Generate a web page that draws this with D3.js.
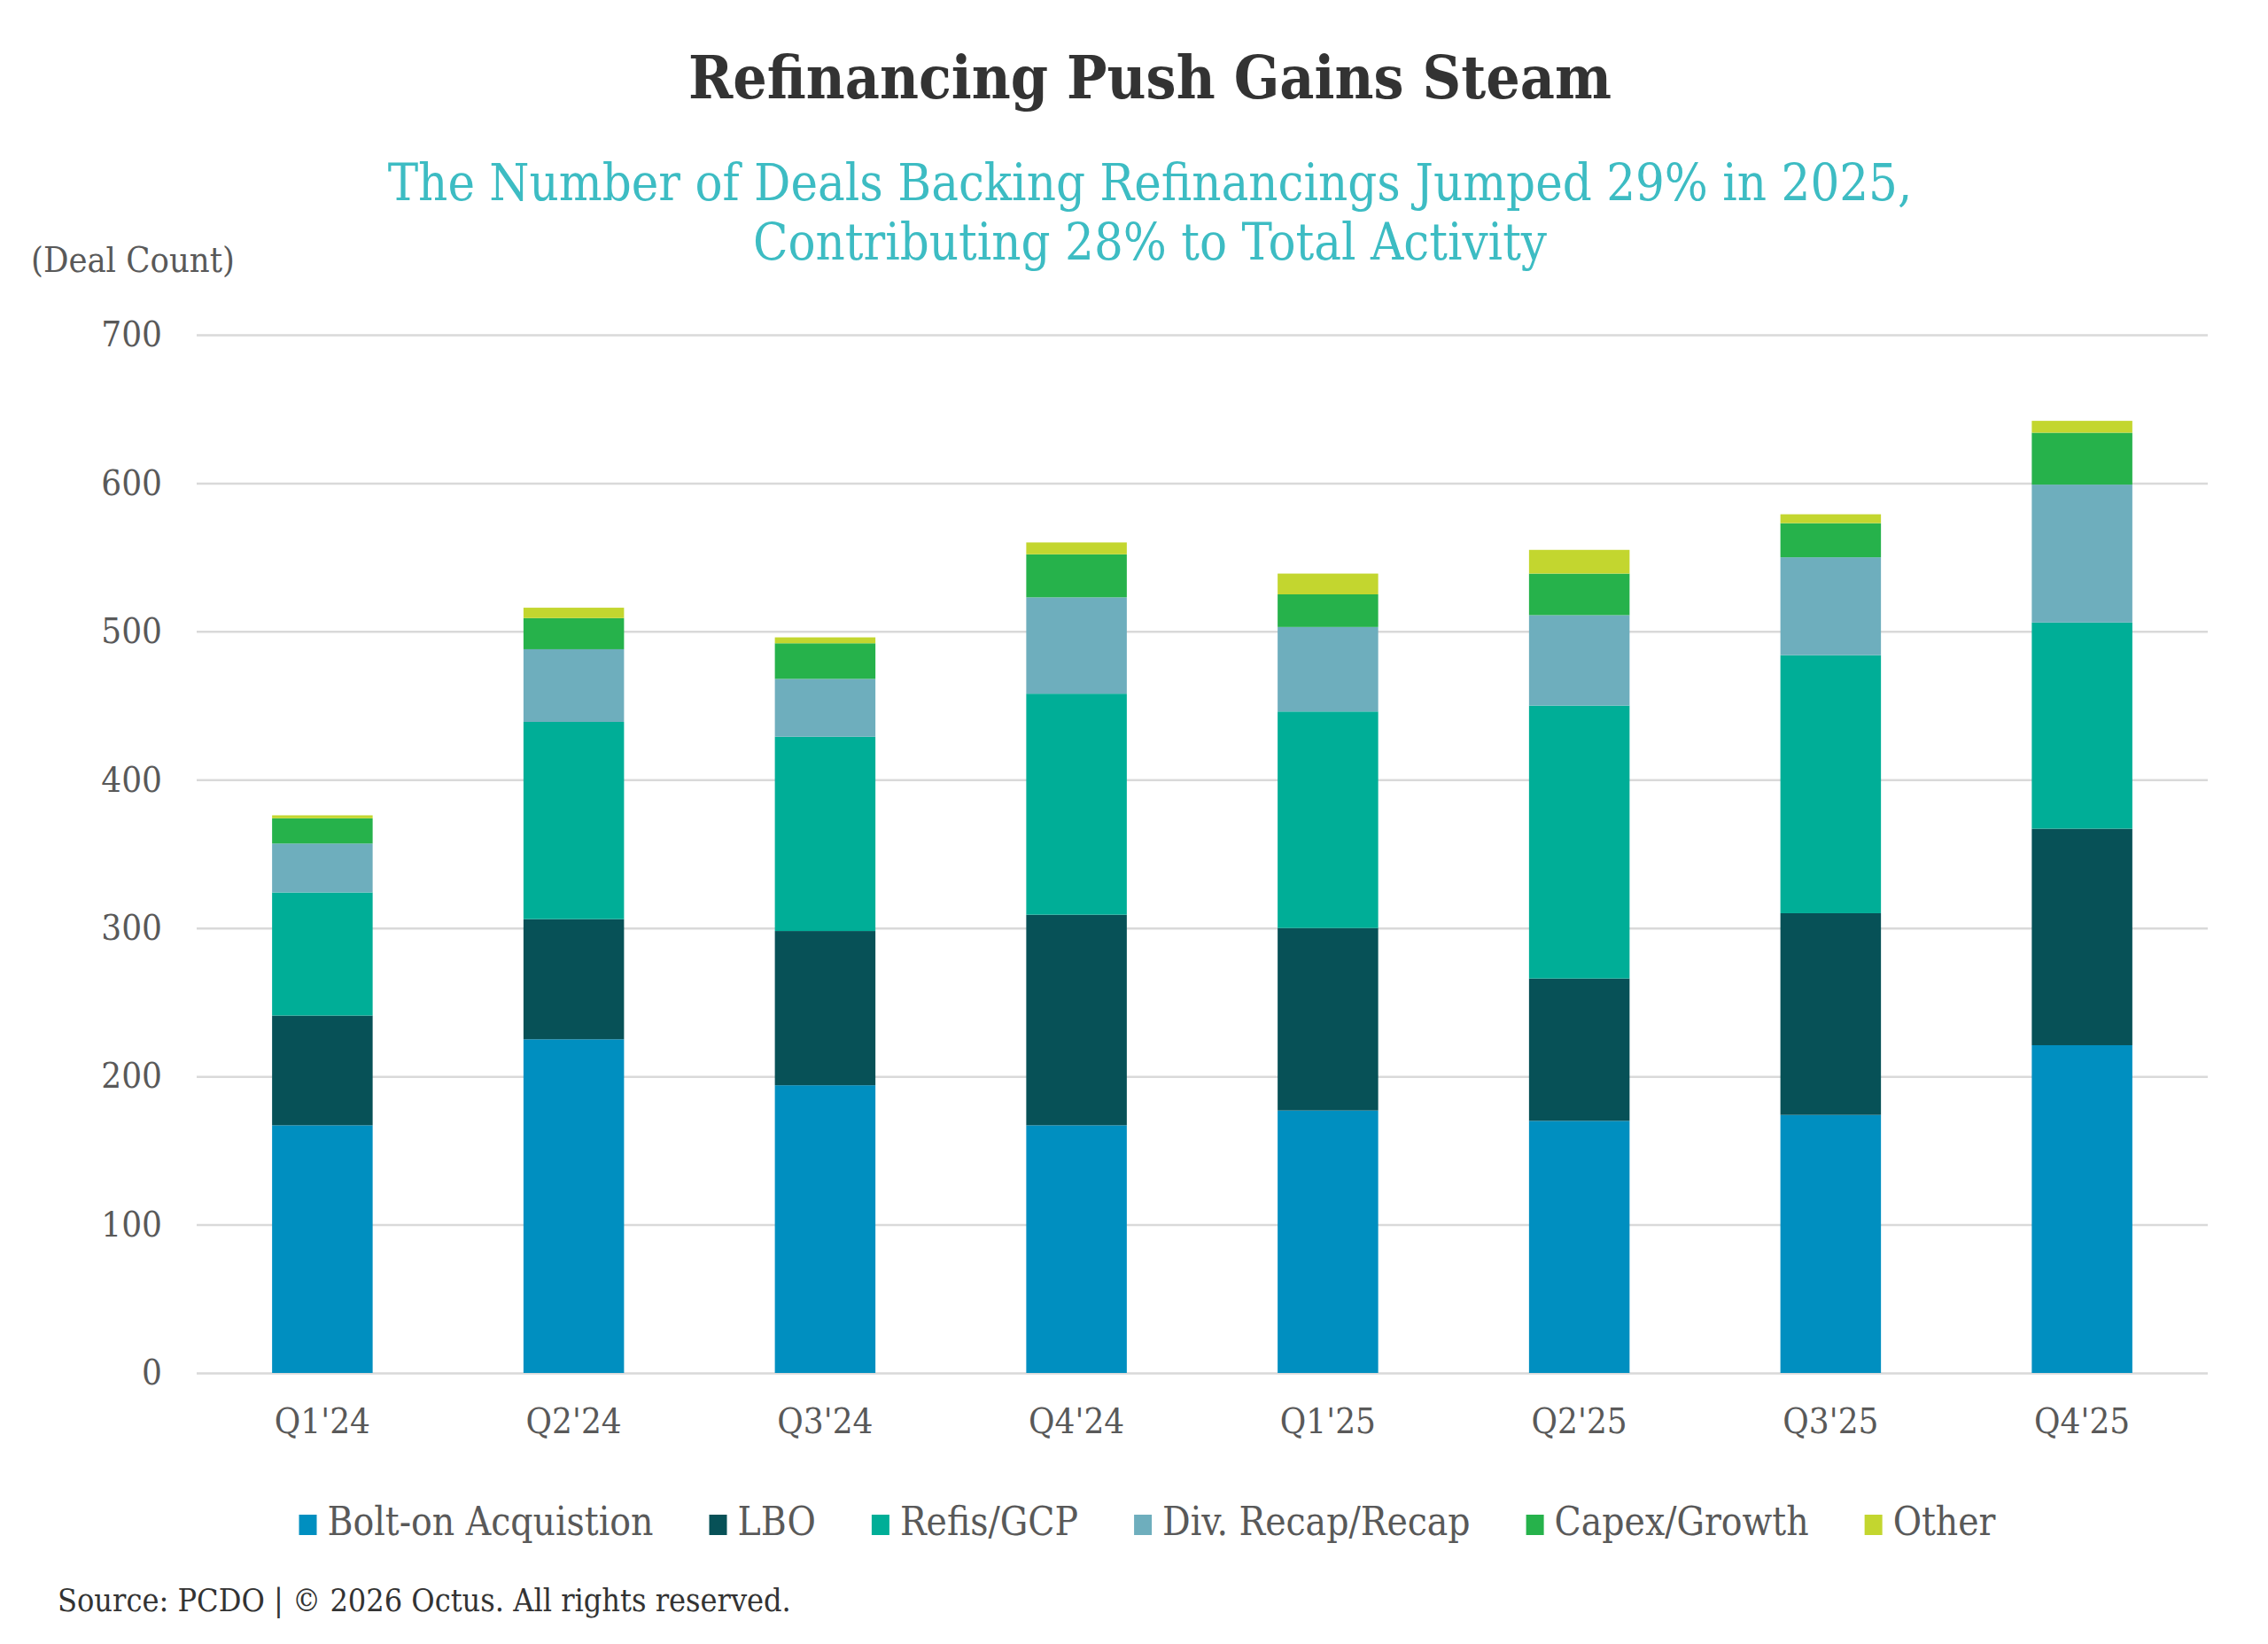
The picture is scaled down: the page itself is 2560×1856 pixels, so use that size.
<!DOCTYPE html>
<html>
<head>
<meta charset="utf-8">
<script src="https://cdn.jsdelivr.net/npm/d3@7"></script>
<style>
  html, body { margin: 0; padding: 0; background: #fff; }
  svg { display: block; }
</style>
</head>
<body>
<svg id="chart" width="2560" height="1856"></svg>
<script>
// quarters on the x axis
const quarters = ["Q1'24", "Q2'24", "Q3'24", "Q4'24", "Q1'25", "Q2'25", "Q3'25", "Q4'25"]

// deal counts per use of proceeds
const boltOn = [167, 225, 194, 167, 177, 170, 174, 221]
const lbo = [74, 81, 104, 142, 123, 96, 136, 146]
const refis = [83, 133, 131, 149, 146, 184, 174, 139]
const divRecap = [33, 49, 39, 65, 57, 61, 66, 93]
const capex = [17, 21, 24, 29, 22, 28, 23, 35]
const other = [2, 7, 4, 8, 14, 16, 6, 8]

const seriesNames = ["Bolt-on Acquistion", "LBO", "Refis/GCP", "Div. Recap/Recap", "Capex/Growth", "Other"]
const seriesValues = [boltOn, lbo, refis, divRecap, capex, other]
const yTicks = [0, 100, 200, 300, 400, 500, 600, 700]

const colours = {
	boltOn: "#008fc0",
	lbo: "#075157",
	refis: "#00ae97",
	divRecap: "#6eaebd",
	capex: "#26b24b",
	other: "#c3d62f",
	title: "#333333",
	subtitle: "#3dbcc3",
	label: "#595959",
	grid: "#d9d9d9"
}
const seriesColours = [colours.boltOn, colours.lbo, colours.refis, colours.divRecap, colours.capex, colours.other]

const font = "'DejaVu Serif Condensed', 'DejaVu Serif', serif"

const svg = d3.select("#chart").style("font-family", font)

svg.append("rect").attr("width", 2560).attr("height", 1856).attr("fill", "#fff")

// scale a text's font size so it spans the width it has in the reference
const fitText = (sel, target) => {
	const w = sel.node().getComputedTextLength()
	sel.attr("font-size", parseFloat(sel.attr("font-size")) * target / w)
	return sel
}

/**
 * Table for the stack: one row per quarter
 */
const table = quarters.map((q, i) => {
	const row = { quarter: q }
	seriesNames.forEach((name, j) => (row[name] = seriesValues[j][i]))
	return row
})
const stacked = d3.stack().keys(seriesNames)(table)

const margin = { left: 222, right: 2492, top: 378, bottom: 1550 }

const x = d3
	.scaleBand()
	.domain(quarters)
	.range([margin.left, margin.right])
	.paddingInner(0.6)
	.paddingOuter(0.3)

const y = d3.scaleLinear().domain([0, 700]).range([margin.bottom, margin.top])

// gridlines + y labels
const yAxis = svg
	.append("g")
	.attr("transform", `translate(${margin.left},0)`)
	.call(
		d3
			.axisLeft(y)
			.tickValues(yTicks)
			.tickSize(-(margin.right - margin.left))
			.tickPadding(39)
	)
yAxis.select(".domain").remove()
yAxis.selectAll(".tick line").attr("stroke", colours.grid).attr("stroke-width", 2.5)
yAxis
	.selectAll(".tick text")
	.attr("fill", colours.label)
	.attr("font-family", font)
	.attr("font-size", 40)

// x labels
const xAxis = svg
	.append("g")
	.attr("transform", `translate(0,${margin.bottom})`)
	.call(d3.axisBottom(x).tickSize(0))
xAxis.select(".domain").remove()
xAxis
	.selectAll(".tick text")
	.attr("dy", null)
	.attr("y", 68)
	.attr("fill", colours.label)
	.attr("font-family", font)
	.attr("font-size", 40)

// stacked bars
svg
	.append("g")
	.selectAll("g")
	.data(stacked)
	.enter()
	.append("g")
	.attr("fill", (d, i) => seriesColours[i])
	.selectAll("rect")
	.data((d) => d)
	.enter()
	.append("rect")
	.attr("x", (d) => x(d.data.quarter))
	.attr("width", x.bandwidth())
	.attr("y", (d) => y(d[1]))
	.attr("height", (d) => y(d[0]) - y(d[1]))

// titles
fitText(
	svg
		.append("text")
		.attr("x", 1298)
		.attr("y", 111)
		.attr("text-anchor", "middle")
		.attr("font-weight", "bold")
		.attr("font-size", 64)
		.attr("fill", colours.title)
		.text("Refinancing Push Gains Steam"),
	1042
)

fitText(
	svg
		.append("text")
		.attr("x", 1298)
		.attr("y", 226)
		.attr("text-anchor", "middle")
		.attr("font-size", 56)
		.attr("fill", colours.subtitle)
		.text("The Number of Deals Backing Refinancings Jumped 29% in 2025,"),
	1721
)
const sub2 = svg
	.append("text")
	.attr("x", 1298)
	.attr("y", 293)
	.attr("text-anchor", "middle")
	.attr("fill", colours.subtitle)
	.text("Contributing 28% to Total Activity")
sub2.attr("font-size", svg.selectAll("text").filter(function () {
	return d3.select(this).attr("y") == 226
}).attr("font-size"))

fitText(
	svg
		.append("text")
		.attr("x", 35)
		.attr("y", 307)
		.attr("font-size", 34)
		.attr("fill", colours.label)
		.text("(Deal Count)"),
	230
)

/**
 * Legend: swatch, gap, label, spaced out and centred under the chart
 */
const legendY = 1733
const swatchW = 20
const swatchH = 23
const swatchGap = 12
const itemGap = 63
const legend = svg.append("g")
const legendText = legend
	.selectAll("text")
	.data(seriesNames)
	.enter()
	.append("text")
	.attr("y", legendY)
	.attr("font-size", 40)
	.attr("fill", colours.label)
	.text((d) => d)

let textTotal = d3.sum(legendText.nodes(), (n) => n.getComputedTextLength())
const legendFs = (40 * 1408) / textTotal
legendText.attr("font-size", legendFs)
const widths = legendText.nodes().map((n) => n.getComputedTextLength())
const legendTotal = d3.sum(widths) + seriesNames.length * (swatchW + swatchGap) + (seriesNames.length - 1) * itemGap
let cursor = 1295 - legendTotal / 2
const starts = widths.map((w) => {
	const s = cursor
	cursor += swatchW + swatchGap + w + itemGap
	return s
})
legendText.attr("x", (d, i) => starts[i] + swatchW + swatchGap)
legend
	.selectAll("rect")
	.data(seriesNames)
	.enter()
	.append("rect")
	.attr("x", (d, i) => starts[i])
	.attr("y", legendY - swatchH)
	.attr("width", swatchW)
	.attr("height", swatchH)
	.attr("fill", (d, i) => seriesColours[i])

// footer
fitText(
	svg
		.append("text")
		.attr("x", 65)
		.attr("y", 1819)
		.attr("font-size", 34)
		.attr("fill", colours.title)
		.text("Source: PCDO | © 2026 Octus. All rights reserved."),
	828
)
</script>
</body>
</html>
